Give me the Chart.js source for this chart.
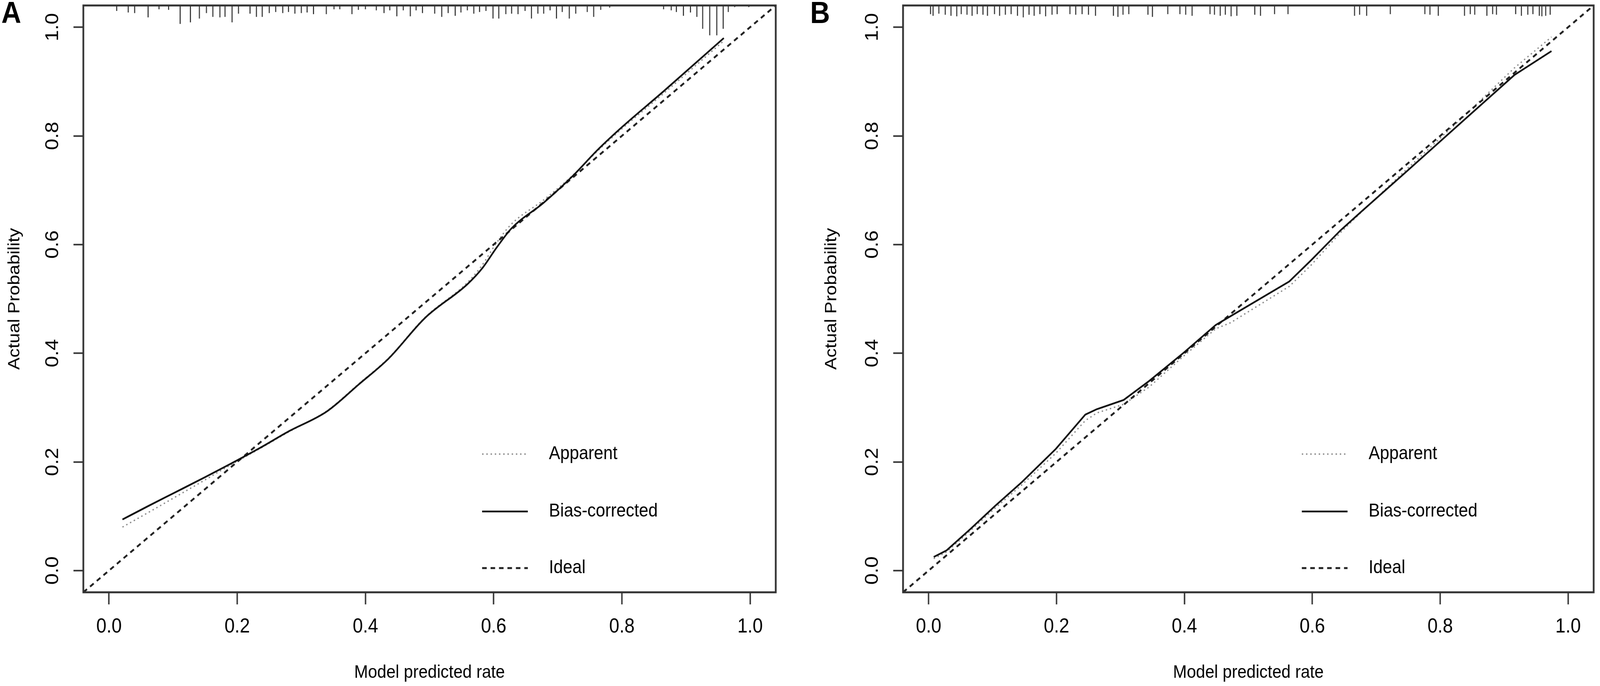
<!DOCTYPE html>
<html>
<head>
<meta charset="utf-8">
<title>Calibration curves</title>
<script src="https://cdn.jsdelivr.net/npm/chart.js@4.4.1/dist/chart.umd.min.js"></script>
<style>
  html, body { margin: 0; padding: 0; background: #fff; overflow: hidden; }
  #wrap { position: relative; width: 4550px; height: 1757px; overflow: hidden; transform-origin: 0 0; }
  .panel { position: absolute; top: 0; width: 2275px; height: 1757px; }
  .tag { position: absolute; top: -7px; font: bold 78px "Liberation Sans", Arial, sans-serif; line-height: 1; color: #000; }
</style>
</head>
<body>
<div id="wrap">
  <div class="panel" style="left:0"><canvas id="chart-a" width="2275" height="1757"></canvas></div>
  <div class="panel" style="left:2275px"><canvas id="chart-b" width="2275" height="1757"></canvas></div>
  <div class="tag" style="left:4px">A</div>
  <div class="tag" style="left:2304px">B</div>
</div>
<script>
// axis setup shared by both panels
const tickValues = [0, 0.2, 0.4, 0.6, 0.8, 1.0];
const axisMin = -0.04;
const axisMax = 1.04;
const idealX = [-0.04, 1.04];
const idealY = [-0.04, 1.04];
const legendLabels = ['Apparent', 'Bias-corrected', 'Ideal'];

// Panel A
const aPredicted = [0.021, 0.06, 0.10, 0.15, 0.189, 0.236, 0.28, 0.34, 0.39, 0.436, 0.493, 0.559, 0.582, 0.605, 0.628, 0.678, 0.724, 0.762, 0.801, 0.865, 0.959];
const aBiasCorrected = [0.094, 0.118, 0.142, 0.172, 0.196, 0.226, 0.256, 0.293, 0.343, 0.390, 0.465, 0.527, 0.556, 0.595, 0.630, 0.677, 0.727, 0.774, 0.817, 0.882, 0.980];
const aApparent = [0.080, 0.106, 0.133, 0.167, 0.194, 0.225, 0.255, 0.294, 0.344, 0.391, 0.466, 0.530, 0.562, 0.604, 0.638, 0.682, 0.728, 0.772, 0.814, 0.878, 0.975];
const aRugX = [0.012, 0.030, 0.040, 0.061, 0.078, 0.093, 0.111, 0.127, 0.141, 0.152,
  0.162, 0.173, 0.181, 0.192, 0.202, 0.220, 0.230, 0.239, 0.250, 0.260,
  0.271, 0.280, 0.290, 0.300, 0.309, 0.319, 0.339, 0.351, 0.360, 0.379,
  0.389, 0.400, 0.417, 0.429, 0.438, 0.449, 0.459, 0.470, 0.479, 0.489,
  0.508, 0.519, 0.529, 0.540, 0.549, 0.559, 0.569, 0.578, 0.588, 0.599,
  0.608, 0.619, 0.628, 0.638, 0.649, 0.659, 0.669, 0.678, 0.688, 0.698,
  0.707, 0.718, 0.728, 0.746, 0.756, 0.767, 0.781, 0.865, 0.877, 0.885,
  0.896, 0.907, 0.917, 0.926, 0.937, 0.948, 0.958, 0.966, 0.976, 0.998];
const aRugLen = [0.010, 0.013, 0.014, 0.022, 0.007, 0.008, 0.034, 0.031, 0.024, 0.014,
  0.021, 0.022, 0.021, 0.031, 0.015, 0.015, 0.021, 0.021, 0.014, 0.012,
  0.014, 0.012, 0.015, 0.014, 0.013, 0.016, 0.016, 0.007, 0.007, 0.016,
  0.008, 0.007, 0.009, 0.014, 0.009, 0.020, 0.009, 0.020, 0.009, 0.014,
  0.015, 0.021, 0.014, 0.019, 0.013, 0.009, 0.015, 0.012, 0.010, 0.024,
  0.024, 0.016, 0.015, 0.016, 0.010, 0.024, 0.015, 0.015, 0.009, 0.024,
  0.012, 0.024, 0.015, 0.012, 0.021, 0.008, 0.004, 0.007, 0.009, 0.012,
  0.019, 0.013, 0.021, 0.043, 0.055, 0.055, 0.043, 0.012, 0.003, 0.003];

// Panel B
const bPredicted = [0.008, 0.028, 0.064, 0.104, 0.146, 0.199, 0.245, 0.263, 0.305, 0.345, 0.399, 0.449, 0.472, 0.564, 0.598, 0.644, 0.677, 0.747, 0.837, 0.916, 0.974];
const bBiasCorrected = [0.025, 0.037, 0.075, 0.119, 0.163, 0.224, 0.287, 0.297, 0.314, 0.349, 0.401, 0.452, 0.468, 0.532, 0.571, 0.626, 0.661, 0.734, 0.829, 0.912, 0.956];
const bApparent = [0.022, 0.034, 0.072, 0.115, 0.158, 0.216, 0.276, 0.290, 0.306, 0.338, 0.395, 0.445, 0.456, 0.523, 0.562, 0.622, 0.660, 0.738, 0.836, 0.925, 0.982];
const bRugX = [0.003, 0.007, 0.016, 0.026, 0.035, 0.044, 0.051, 0.060, 0.068, 0.076,
  0.085, 0.092, 0.103, 0.111, 0.120, 0.129, 0.139, 0.148, 0.157, 0.165,
  0.174, 0.183, 0.193, 0.201, 0.221, 0.230, 0.240, 0.250, 0.261, 0.289,
  0.296, 0.304, 0.313, 0.343, 0.350, 0.374, 0.393, 0.402, 0.412, 0.440,
  0.447, 0.456, 0.464, 0.473, 0.482, 0.510, 0.519, 0.541, 0.562, 0.666,
  0.674, 0.685, 0.722, 0.776, 0.784, 0.797, 0.838, 0.847, 0.854, 0.873,
  0.882, 0.888, 0.918, 0.927, 0.937, 0.945, 0.955, 0.959, 0.965, 0.972];
const bRugLen = [0.016, 0.019, 0.015, 0.017, 0.019, 0.020, 0.016, 0.017, 0.019, 0.016,
  0.017, 0.019, 0.016, 0.019, 0.017, 0.016, 0.019, 0.022, 0.017, 0.019,
  0.016, 0.020, 0.017, 0.016, 0.016, 0.017, 0.016, 0.017, 0.019, 0.019,
  0.021, 0.017, 0.016, 0.017, 0.021, 0.016, 0.016, 0.017, 0.019, 0.016,
  0.017, 0.019, 0.017, 0.020, 0.019, 0.017, 0.019, 0.016, 0.016, 0.019,
  0.017, 0.019, 0.016, 0.016, 0.017, 0.019, 0.019, 0.016, 0.017, 0.019,
  0.016, 0.017, 0.016, 0.019, 0.017, 0.016, 0.019, 0.020, 0.019, 0.017];

const FONT = '"Liberation Sans", Arial, Helvetica, sans-serif';

// the drawing is laid out at 4550x1757; stretch it to whatever the window really is
const wrap = document.getElementById('wrap');
const sx = (window.innerWidth || 4550) / 4550;
const sy = (window.innerHeight || 1757) / 1757;
wrap.style.transform = 'scale(' + sx + ',' + sy + ')';

function toPoints(xs, ys) {
  return xs.map((x, i) => ({ x: x, y: ys[i] }));
}

// spikes hanging from the top of the plot, broken apart by null points
function rugPoints(xs, lens) {
  const pts = [];
  xs.forEach((x, i) => {
    pts.push({ x: x, y: axisMax }, { x: x, y: axisMax - lens[i] }, { x: x, y: null });
  });
  return pts;
}

// box round the plot area
const boxPlugin = {
  id: 'plotBox',
  afterDraw(chart) {
    const { ctx, chartArea: a } = chart;
    ctx.save();
    ctx.strokeStyle = '#333';
    ctx.lineWidth = 5;
    ctx.strokeRect(a.left, a.top, a.right - a.left, a.bottom - a.top);
    ctx.restore();
  }
};

// R style legend inside the plot, bottom right
const legendPlugin = {
  id: 'calLegend',
  afterDraw(chart) {
    const { ctx, chartArea: a } = chart;
    const rowY = [1149, 1296, 1441];
    ctx.save();
    legendLabels.forEach((lbl, i) => {
      const d = chart.data.datasets.find(ds => ds.label === lbl);
      const y = a.top + rowY[i];
      ctx.beginPath();
      ctx.setLineDash(d.borderDash || []);
      ctx.lineWidth = d.borderWidth;
      ctx.strokeStyle = d.borderColor;
      ctx.moveTo(a.left + 1134, y);
      ctx.lineTo(a.left + 1264, y);
      ctx.stroke();
      ctx.setLineDash([]);
      ctx.fillStyle = '#000';
      ctx.font = '48px ' + FONT;
      ctx.textBaseline = 'middle';
      ctx.textAlign = 'left';
      ctx.fillText(lbl, a.left + 1324, y);
    });
    ctx.restore();
  }
};

function buildPanel(canvasId, p) {
  const ctx = document.getElementById(canvasId).getContext('2d');
  return new Chart(ctx, {
    type: 'line',
    data: {
      datasets: [{
        data: rugPoints(p.rugX, p.rugLen),
        borderColor: '#333',
        borderWidth: 3,
        pointRadius: 0,
        spanGaps: false,
        tension: 0,
        order: 4
      }, {
        label: 'Apparent',
        data: toPoints(p.x, p.apparent),
        borderColor: '#8a8a8a',
        borderWidth: 3.5,
        borderDash: [4, 8],
        pointRadius: 0,
        tension: p.smooth ? 0.4 : 0,
        cubicInterpolationMode: p.smooth ? 'monotone' : 'default',
        order: 3
      }, {
        label: 'Bias-corrected',
        data: toPoints(p.x, p.bias),
        borderColor: '#111',
        borderWidth: 4.5,
        pointRadius: 0,
        tension: p.smooth ? 0.4 : 0,
        cubicInterpolationMode: p.smooth ? 'monotone' : 'default',
        order: 1
      }, {
        label: 'Ideal',
        data: toPoints(idealX, idealY),
        borderColor: '#222',
        borderWidth: 5,
        borderDash: [13, 11],
        pointRadius: 0,
        tension: 0,
        order: 2
      }]
    },
    options: {
      responsive: false,
      devicePixelRatio: 1,
      animation: false,
      layout: { padding: { left: p.padLeft, right: p.padRight, top: 14, bottom: 0 } },
      plugins: { legend: { display: false }, tooltip: { enabled: false } },
      scales: {
        x: {
          type: 'linear',
          min: axisMin,
          max: axisMax,
          afterBuildTicks: s => { s.ticks = tickValues.map(v => ({ value: v })); },
          afterFit: s => { s.height = 240; s.paddingLeft = 0; s.paddingRight = 0; },
          ticks: {
            font: { family: FONT, size: 52 },
            color: '#000',
            padding: 26,
            maxRotation: 0,
            autoSkip: false,
            callback: v => Number(v).toFixed(1)
          },
          grid: { display: true, drawOnChartArea: false, drawTicks: true, tickLength: 31, tickWidth: 4, tickColor: '#333' },
          border: { display: false },
          title: {
            display: true,
            text: 'Model predicted rate',
            font: { family: FONT, size: 47 },
            color: '#000',
            padding: { top: 0, bottom: 6 }
          }
        },
        y: {
          type: 'linear',
          min: axisMin,
          max: axisMax,
          afterBuildTicks: s => { s.ticks = tickValues.map(v => ({ value: v })); },
          afterFit: s => { s.width = p.yWidth; s.paddingTop = 0; s.paddingBottom = 0; },
          ticks: {
            font: { family: FONT, size: 52 },
            color: '#000',
            padding: 22,
            minRotation: 90,
            maxRotation: 90,
            crossAlign: 'center',
            autoSkip: false,
            callback: v => Number(v).toFixed(1)
          },
          grid: { display: true, drawOnChartArea: false, drawTicks: true, tickLength: 28, tickWidth: 4, tickColor: '#333' },
          border: { display: false },
          title: {
            display: true,
            text: 'Actual Probability',
            font: { family: FONT, size: 47 },
            color: '#000',
            padding: { top: 14, bottom: 0 }
          }
        }
      }
    },
    plugins: [boxPlugin, legendPlugin]
  });
}

buildPanel('chart-a', {
  x: aPredicted, bias: aBiasCorrected, apparent: aApparent,
  rugX: aRugX, rugLen: aRugLen, smooth: true,
  padLeft: 0, padRight: 69, yWidth: 237
});

buildPanel('chart-b', {
  x: bPredicted, bias: bBiasCorrected, apparent: bApparent,
  rugX: bRugX, rugLen: bRugLen, smooth: false,
  padLeft: 48, padRight: 18, yWidth: 245
});
</script>
</body>
</html>
